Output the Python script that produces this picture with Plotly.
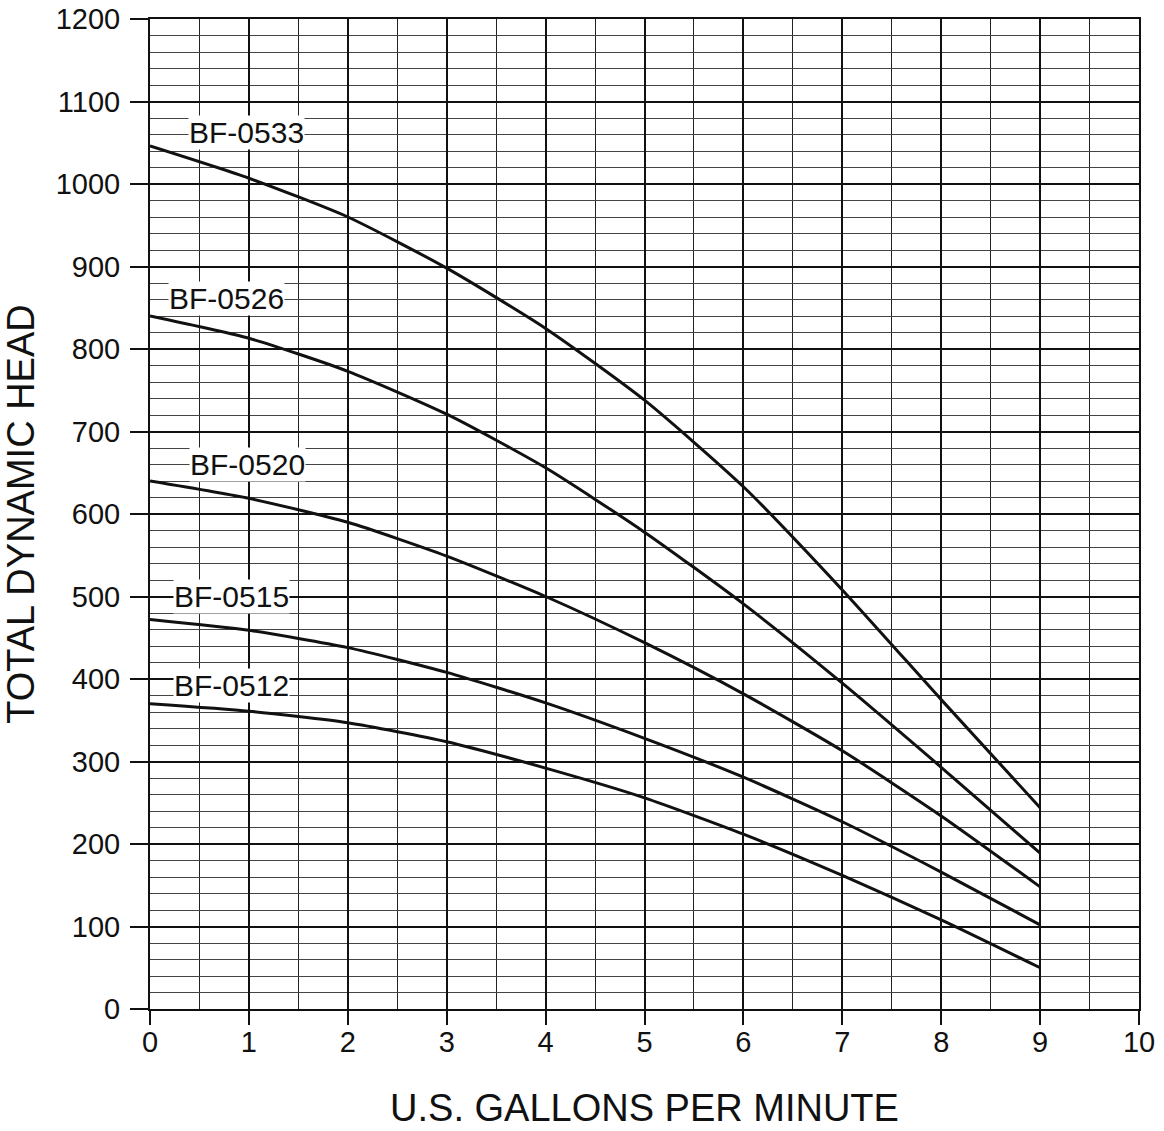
import plotly.graph_objects as go

gpm = [0, 1, 2, 3, 4, 5, 6, 7, 8, 9]
bf0533 = [1046, 1007, 960, 898, 825, 738, 633, 508, 375, 244]
bf0526 = [840, 813, 773, 721, 656, 578, 491, 395, 293, 189]
bf0520 = [640, 619, 590, 549, 500, 444, 382, 313, 234, 148]
bf0515 = [472, 459, 438, 408, 371, 328, 281, 227, 166, 102]
bf0512 = [370, 361, 347, 324, 292, 256, 212, 162, 108, 50]

series = [("BF-0533", bf0533), ("BF-0526", bf0526), ("BF-0520", bf0520),
          ("BF-0515", bf0515), ("BF-0512", bf0512)]
label_x = [0.98, 0.77, 0.99, 0.82, 0.82]
label_y = [1063, 861, 660, 500, 392]

fig = go.Figure()
for name, vals in series:
    fig.add_trace(go.Scatter(x=gpm, y=vals, mode="lines", name=name,
                             line=dict(color="#111111", width=3, shape="spline", smoothing=0.6),
                             showlegend=False))

for (name, _), lx, ly in zip(series, label_x, label_y):
    fig.add_annotation(x=lx, y=ly, text=name, showarrow=False, bgcolor="white",
                       font=dict(family="Liberation Sans, Arial", size=30, color="#111111"),
                       borderpad=0)

font = dict(family="Liberation Sans, Arial", size=29, color="#111111")
fig.update_layout(
    width=1164, height=1131,
    margin=dict(l=150, r=25, t=19, b=122),
    plot_bgcolor="white", paper_bgcolor="white",
    font=font,
    xaxis=dict(range=[0, 10], dtick=1, tick0=0, showgrid=True, gridcolor="#111111", gridwidth=2,
               minor=dict(dtick=0.5, showgrid=True, gridcolor="#222222", gridwidth=1),
               ticks="outside", ticklen=14, tickwidth=2, tickcolor="#111111",
               ticklabelstandoff=-8, ticklabeloverflow="allow",
               showline=True, linecolor="#111111", linewidth=2, mirror=True, zeroline=False,
               automargin=False,
               title=dict(text="U.S. GALLONS PER MINUTE", font=dict(size=38), standoff=38)),
    yaxis=dict(range=[0, 1200], dtick=100, tick0=0, showgrid=True, gridcolor="#111111", gridwidth=2,
               minor=dict(dtick=20, showgrid=True, gridcolor="#444444", gridwidth=1),
               ticks="outside", ticklen=18, tickwidth=2, tickcolor="#111111",
               ticklabelstandoff=4, ticklabeloverflow="allow",
               showline=True, linecolor="#111111", linewidth=2, mirror=True, zeroline=False,
               automargin=False,
               title=dict(text="TOTAL DYNAMIC HEAD", font=dict(size=38), standoff=13)),
)

fig.write_html("out.html", config={"displayModeBar": False},
               post_script="document.body.style.margin='0';document.body.style.overflow='hidden';")
